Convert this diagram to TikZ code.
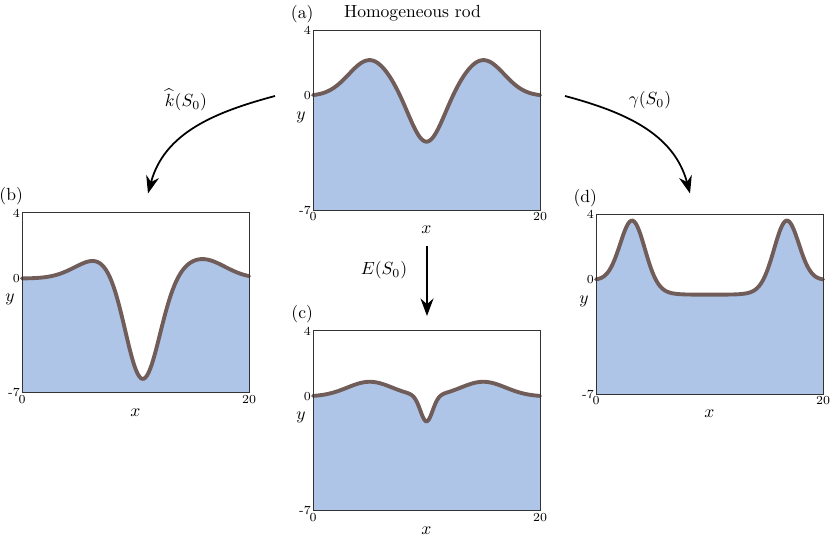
\documentclass[tikz,border=0pt]{standalone}
\usepackage{amsmath}
\usetikzlibrary{arrows.meta}
\tikzstyle{rodfill} = [fill={rgb,255:red,174;green,197;blue,232}]
\tikzstyle{rodline} = [draw={rgb,255:red,112;green,93;blue,89}, line width=2.2pt, line cap=round]
\tikzstyle{box} = [draw=black!80, line width=0.4pt, minimum width=4.54cm, minimum height=3.6cm, inner sep=0pt, anchor=south west]
\tikzstyle{tick} = [font=\scriptsize, inner sep=1pt]
\tikzstyle{arrow} = [line width=1pt, -{Stealth[length=3.5mm, width=2.6mm]}]
\newcommand{\g}[2]{exp(-((\x-#1)/#2)^2)}
% #1 shift, #2 name, #3 label, #4 curve
\newcommand{\rodpanel}[4]{%
\begin{scope}[shift={#1}, x=0.227cm, y=0.327cm]
	\fill[rodfill] (0,-7) -- plot[domain=0:20, samples=150, smooth] (\x,{#4}) -- (20,-7) -- cycle;
	\draw[rodline] plot[domain=0:20, samples=150, smooth] (\x,{#4});
	\node (#2) [box] at (0,-7) {};
	\node[tick, anchor=east] at (0,4) {4};
	\node[tick, anchor=east] at (0,0) {0};
	\node[tick, anchor=east] at (0,-7) {-7};
	\node[tick, anchor=north] at (0,-7) {0};
	\node[tick, anchor=north] at (20,-7) {20};
	\node at (10,-8.2) {$x$};
	\node at (-1.05,-1.3) {$y$};
	\node[anchor=south, inner sep=1pt] at (-0.95,4.35) {(#3)};
\end{scope}}

\begin{document}
\begin{tikzpicture}
	\useasboundingbox (0,0) rectangle (16.6,10.72);
	\rodpanel{(6.26,8.80)}{pa}{a}{2.2*\g{5}{2.6}+2.2*\g{15}{2.6}-2.9*\g{10}{2.0}}
	\node (title) at (8.25,10.45) {Homogeneous rod};
	\rodpanel{(0.44,5.15)}{pb}{b}{1.2*\g{6.8}{2.9}+1.2*\g{15.8}{2.9}-6.4*\g{10.6}{2.1}}
	\rodpanel{(6.26,2.79)}{pc}{c}{0.9*\g{5}{2.8}+0.9*\g{15}{2.8}-1.6*\g{10}{0.75}}
	\rodpanel{(11.92,5.12)}{pd}{d}{3.7*\g{3.2}{1.5}+3.7*\g{16.8}{1.5}-0.9/(1+exp(-1.4*(\x-5.0)))/(1+exp(1.4*(\x-15.0)))}

	\coordinate (ka) at (5.5,8.8);
	\coordinate (kb) at (2.96,6.85);
	\coordinate (ga) at (11.3,8.8);
	\coordinate (gd) at (13.8,6.85);
	\coordinate (ea) at (8.54,5.8);
	\coordinate (ec) at (8.54,4.4);
	\draw [arrow] (ka) to[out=195, in=75] (kb);
	\draw [arrow] (ga) to[out=-15, in=105] (gd);
	\draw [arrow] (ea) -- (ec);
	\node (klab) at (3.72,8.72) {$\widehat{k}(S_0)$};
	\node (glab) at (13.0,8.72) {$\gamma(S_0)$};
	\node (elab) at (7.68,5.32) {$E(S_0)$};
\end{tikzpicture}
\end{document}
